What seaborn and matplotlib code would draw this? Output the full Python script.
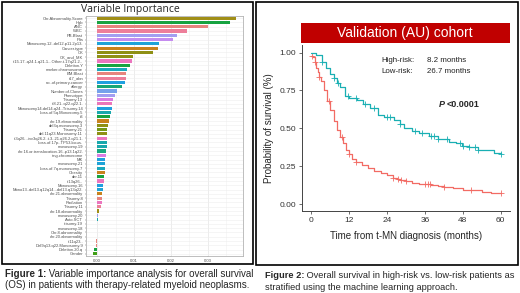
import numpy as np
import matplotlib
matplotlib.use('Agg')
import matplotlib.pyplot as plt
import seaborn as sns
from matplotlib.patches import Rectangle

sns.set_theme(style="ticks")
plt.rcParams['font.family'] = ['Liberation Sans', 'DejaVu Sans']

W, H = 520, 293

# ---- figure 1 data: variable importance ----
variables = [
    "Chr.Abnormality.Score", "Hgb", "ANC", "WBC", "PB.Blast", "Plts",
    "Monosomy.12..del12.p11.2p13.", "Cancer.type", "CK", "CK_and_MK",
    "t.15.17..q24.1.q21.1...Other.t.17q21.2..", "Deletion.Y", "marker.chromosome",
    "BM.Blast", "t17_abn", "no..of.primary.cancer", "allergy", "Number.of.Clones",
    "Phenotype", "Trisomy.13", "t.8.21..q22.q22.1.", "Monosomy14.del14.q24..Trisomy.14",
    "Loss.of.5q.Monosomy.5", "t3", "chr.19.abnormality", "del3q.monosomy.3",
    "Trisomy.21", "del.11q23.Monosomy.11", "t.3q26...inv3q26.2..t.3..21.q26.2.q21.1.",
    "Loss.of.17p..TP53.locus.", "monosomy.19", "chr.16.or.translocation.16..p13.1q22.",
    "ring.chromosome", "MK", "monosomy.21", "Loss.of.7q.monosomy.7", "Obesity",
    "der.11", "t.13q26..", "Monosomy.16", "Mono13..del13.q12q14...del13.q13q22.",
    "chr.21.abnormality", "Trisomy.8", "Radiation", "Trisomy.11", "chr.18.abnormality",
    "monosomy.20", "Auto.SCT", "trisomy.19", "monosomy.18", "Chr.8.abnormality",
    "chr.20.abnormality", "t.11q23..", "Del9q13.q22.Monosomy.9", "Deletion.20.q", "Gender",
]
importance = [
    0.0376, 0.0360, 0.0300, 0.0243, 0.0216, 0.0205, 0.0168, 0.0165, 0.0151, 0.0097,
    0.0095, 0.0089, 0.0081, 0.0079, 0.0078, 0.0076, 0.0068, 0.0054, 0.0049, 0.0043,
    0.0041, 0.0040, 0.0038, 0.0035, 0.0032, 0.0030, 0.0028, 0.0027, 0.0027, 0.0027,
    0.0026, 0.0024, 0.0024, 0.0022, 0.0022, 0.0021, 0.0021, 0.0019, 0.0019, 0.0016,
    0.0016, 0.0014, 0.0014, 0.0013, 0.0011, 0.0005, 0.0003, 0.0002, 0.0001, 0.0001,
    0.00005, 0.00003, -0.0002, -0.0004, -0.0008, -0.0012,
]
bar_colors = [
    "#B79F00", "#00BA38", "#F8766D", "#FF6C91", "#9590FF", "#C77CFF",
    "#00B0F6", "#E58700", "#A3A500", "#A3A500", "#FF61C3", "#00BA38",
    "#00BCD8", "#F8766D", "#FF6C91", "#00A9FF", "#00BF7D", "#619CFF",
    "#9590FF", "#E76BF3", "#FF62BC", "#00A9FF", "#00BFC4", "#00BA38",
    "#E58700", "#A3A500", "#7CAE00", "#A3A500", "#FF61C3", "#00BFC4",
    "#00BFC4", "#00C08B", "#E76BF3", "#00A9FF", "#00B0F6", "#00BCD8",
    "#E58700", "#00BA38", "#FF61C3", "#00A9FF", "#00B0F6", "#E58700",
    "#F8766D", "#FF61C3", "#FF6C91", "#B79F00", "#9590FF", "#00BFC4",
    "#7CAE00", "#C77CFF", "#00A9FF", "#E58700", "#F8766D", "#F8766D",
    "#00BA38", "#39B600",
]

# ---- figure 2 data: Kaplan-Meier curves ----
low_time = [0, 1.5, 3.2, 4.5, 6, 7, 8, 9, 10.7, 12, 14.4, 16.5, 18.7, 21, 23,
            26.3, 28, 29.5, 32, 34, 37.2, 40, 43.6, 46, 47.8, 50, 53, 56, 58, 60]
low_surv = [1.00, 0.985, 0.935, 0.90, 0.86, 0.835, 0.80, 0.77, 0.71, 0.70, 0.69, 0.66,
            0.635, 0.59, 0.575, 0.555, 0.53, 0.50, 0.48, 0.47, 0.45, 0.43, 0.41, 0.40,
            0.38, 0.375, 0.36, 0.355, 0.34, 0.33]
high_time = [0, 0.5, 1, 1.5, 2, 2.5, 3, 4, 5, 6, 7, 8, 9, 10, 11, 12, 13, 14, 16, 18,
             20, 22, 24, 26, 27, 28, 30, 32, 34, 36, 38, 40, 42, 45, 48, 51, 54, 57, 60]
high_surv = [0.98, 0.97, 0.94, 0.90, 0.87, 0.84, 0.81, 0.75, 0.68, 0.62, 0.55, 0.49,
             0.44, 0.40, 0.36, 0.33, 0.30, 0.28, 0.255, 0.235, 0.22, 0.205, 0.19, 0.175,
             0.165, 0.16, 0.15, 0.14, 0.135, 0.13, 0.125, 0.12, 0.11, 0.105, 0.095, 0.09,
             0.08, 0.075, 0.07]
low_censor = [3.5, 7, 8.5, 11.5, 14, 17, 20, 24, 25, 28, 33, 35, 38, 39, 40, 43, 47,
              48, 50, 52, 53, 60]
high_censor = [0.2, 1, 2.5, 5.5, 9.8, 12, 14, 26, 27.5, 28.5, 30, 36, 37, 37.5, 42, 50.5, 60]

red = "#F26B64"
teal = "#19AFB3"


def px(x0, y0, x1, y1):
    # pixel box (top-left origin) -> figure rect
    return [x0 / W, 1 - y1 / H, (x1 - x0) / W, (y1 - y0) / H]


def step_at(times, surv, t):
    i = np.searchsorted(times, t, side='right') - 1
    return np.array(surv)[i]


fig = plt.figure(figsize=(5.2, 2.93), dpi=100)

# panel frames
for x0, y0, x1, y1 in [(1.5, 1.5, 253, 264), (256, 1.5, 517.5, 265)]:
    fig.patches.append(Rectangle((x0 / W, 1 - y1 / H), (x1 - x0) / W, (y1 - y0) / H,
                                 transform=fig.transFigure, fill=False, ec='black', lw=1.2))

# --- left panel ---
ax1 = fig.add_axes(px(86, 16, 243, 256))
sns.barplot(x=importance, y=variables, hue=variables, palette=bar_colors, legend=False,
            orient='h', width=0.75, dodge=False, linewidth=0, ax=ax1)
ax1.set_xlim(-0.003, 0.0395)
ax1.set_xticks([0, 0.01, 0.02, 0.03])
ax1.set_xticklabels(['0.00', '0.01', '0.02', '0.03'])
ax1.set_xticks([0.005, 0.015, 0.025, 0.035], minor=True)
ax1.grid(True, axis='x', which='major', color='#e4e4e4', lw=0.5)
ax1.grid(True, axis='x', which='minor', color='#f1f1f1', lw=0.4)
ax1.grid(True, axis='y', color='#eeeeee', lw=0.4)
ax1.set_axisbelow(True)
ax1.tick_params(axis='both', which='major', labelsize=3, labelcolor='#4d4d4d',
                color='#4d4d4d', length=1, width=0.3, pad=1)
ax1.tick_params(axis='x', which='minor', length=0)
for s in ax1.spines.values():
    s.set_color('#b3b3b3')
    s.set_linewidth(0.6)
ax1.set_xlabel('')
ax1.set_ylabel('')
fig.text(130 / W, 1 - 9.5 / H, "Variable Importance", ha='center', va='center',
         fontsize=7.5, family=['Open Sans', 'DejaVu Sans'])

# --- right panel ---
ax2 = fig.add_axes(px(302, 45, 510, 211))
sns.lineplot(x=low_time, y=low_surv, drawstyle='steps-post', color=teal, lw=0.9,
             estimator=None, sort=False, ax=ax2)
sns.lineplot(x=high_time, y=high_surv, drawstyle='steps-post', color=red, lw=0.9,
             estimator=None, sort=False, ax=ax2)
sns.scatterplot(x=low_censor, y=step_at(low_time, low_surv, low_censor), marker='+',
                s=16, color=teal, linewidth=0.6, ax=ax2)
sns.scatterplot(x=high_censor, y=step_at(high_time, high_surv, high_censor), marker='+',
                s=16, color=red, linewidth=0.6, ax=ax2)
ax2.set_xlim(-3, 63)
ax2.set_ylim(-0.046, 1.05)
ax2.set_xticks([0, 12, 24, 36, 48, 60])
ax2.set_yticks([0, 0.25, 0.5, 0.75, 1.0])
ax2.set_yticklabels(['0.00', '0.25', '0.50', '0.75', '1.00'])
ax2.tick_params(labelsize=6, labelcolor='#333333', color='#555555', length=2.5,
                width=0.6, pad=2)
sns.despine(ax=ax2)
for s in ['left', 'bottom']:
    ax2.spines[s].set_color('#444444')
    ax2.spines[s].set_linewidth(0.7)
ax2.set_xlabel("Time from t-MN diagnosis (months)", fontsize=7, labelpad=5)
ax2.set_ylabel("Probability of survival (%)", fontsize=7, labelpad=4)

ax2.text(22.3, 0.945, "High-risk:", fontsize=5.7, va='center', color='#222222')
ax2.text(36.6, 0.945, "8.2 months", fontsize=5.7, va='center', color='#222222')
ax2.text(22.3, 0.875, "Low-risk:", fontsize=5.7, va='center', color='#222222')
ax2.text(36.6, 0.875, "26.7 months", fontsize=5.7, va='center', color='#222222')
ax2.text(40.4, 0.66, "P", fontsize=6.5, va='center', fontweight='bold', fontstyle='italic')
ax2.text(43.0, 0.66, "<0.0001", fontsize=6.5, va='center', fontweight='bold')

# banner
fig.patches.append(Rectangle((301 / W, 1 - 43 / H), (510 - 301) / W, 20 / H,
                             transform=fig.transFigure, fc='#C00000', ec='none'))
fig.text(405 / W, 1 - 33.5 / H, "Validation (AU) cohort", ha='center', va='center',
         fontsize=10, color='white')

# captions
fig.canvas.draw()
renderer = fig.canvas.get_renderer()
captions = [
    (5, 274, 7.0, "Figure 1:", " Variable importance analysis for overall survival",
     "(OS) in patients with therapy-related myeloid neoplasms."),
    (265, 276, 6.7, "Figure 2:", " Overall survival in high-risk vs. low-risk patients as",
     "stratified using the machine learning approach."),
]
for x0, yc, fs, bold, rest, line2 in captions:
    t = fig.text(x0 / W, 1 - yc / H, bold, fontsize=fs, fontweight='bold', va='center')
    bb = t.get_window_extent(renderer)
    fig.text(bb.x1 / W, 1 - yc / H, rest, fontsize=fs, va='center')
    fig.text(x0 / W, 1 - (yc + 11.5) / H, line2, fontsize=fs, va='center')

fig.savefig('out.png', dpi=100)
